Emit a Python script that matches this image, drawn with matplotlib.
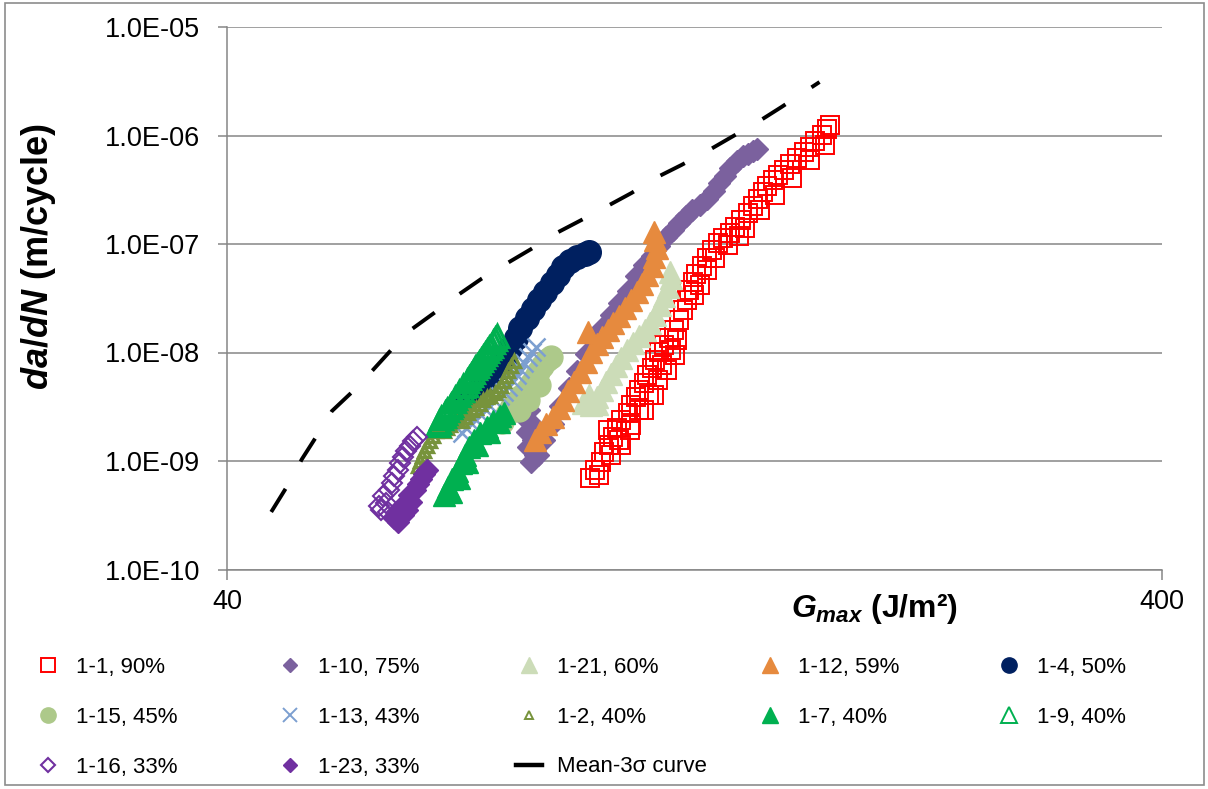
import matplotlib
matplotlib.use("Agg")
import matplotlib.pyplot as plt
from matplotlib.lines import Line2D
from matplotlib.patches import Rectangle
from matplotlib.ticker import NullLocator

plt.rcParams['font.family'] = ['Liberation Sans', 'DejaVu Sans']
plt.rcParams['mathtext.fontset'] = 'custom'
plt.rcParams['mathtext.it'] = 'Liberation Sans:italic:bold'
plt.rcParams['mathtext.rm'] = 'Liberation Sans:bold'
plt.rcParams['mathtext.bf'] = 'Liberation Sans:bold'

# fatigue crack growth: G_max (J/m^2) vs da/dN (m/cycle), one array pair per specimen
g_1_1 = [97.9, 99.1, 100.4, 101.1, 102.6, 103.6, 102.1, 104.6, 105.6, 107.3, 108.3, 109.6, 110.4,
         111.8, 112.6, 113.8, 114.9, 116.0, 117.4, 118.9, 120.4, 121.9, 123.1, 124.3, 124.9, 125.9,
         127.1, 128.7, 130.6, 131.9, 133.9, 135.8, 137.9, 139.9, 142.0, 144.2, 146.0, 147.8, 149.6,
         151.4, 153.3, 155.2, 157.6, 159.9, 162.7, 165.5, 168.0, 170.4, 173.1, 175.5, 176.8,
         100.1, 103.1, 105.1, 108.3, 110.4, 113.2, 115.5, 116.9, 119.5, 121.3,
         105.6, 107.8, 111.8, 114.6, 118.3, 120.7, 126.2, 128.1, 130.6, 133.2, 137.3, 141.3, 143.4,
         148.5, 154.1, 160.7, 168.0, 174.3]
dadn_1_1 = [6.97e-10, 8.26e-10, 9.79e-10, 1.21e-9, 1.40e-9, 1.66e-9, 1.93e-9, 2.01e-9, 2.39e-9,
            2.77e-9, 3.28e-9, 3.89e-9, 4.51e-9, 5.24e-9, 6.21e-9, 7.20e-9, 8.53e-9, 1.01e-8, 1.17e-8,
            1.36e-8, 1.61e-8, 1.99e-8, 2.46e-8, 3.05e-8, 3.77e-8, 4.46e-8, 5.29e-8, 6.27e-8, 7.43e-8,
            8.81e-8, 1.02e-7, 1.14e-7, 1.26e-7, 1.43e-7, 1.66e-7, 1.93e-7, 2.24e-7, 2.60e-7, 3.01e-7,
            3.42e-7, 3.89e-7, 4.32e-7, 4.81e-7, 5.46e-7, 6.21e-7, 7.05e-7, 7.83e-7, 8.90e-7, 1.01e-6,
            1.15e-6, 1.25e-6,
            7.43e-10, 1.14e-9, 1.56e-9, 2.15e-9, 2.95e-9, 4.06e-9, 5.58e-9, 7.67e-9, 1.05e-8, 1.30e-8,
            1.40e-9, 1.93e-9, 2.95e-9, 4.06e-9, 6.90e-9, 9.48e-9, 3.39e-8, 4.19e-8, 5.76e-8, 7.43e-8,
            9.8e-8, 1.19e-7, 1.40e-7, 2.06e-7, 2.83e-7, 4.06e-7, 5.95e-7, 8.17e-7]

g_1_10 = [84.2, 83.4, 85.0, 83.7, 85.0, 83.9, 85.3, 84.5,
          86.1, 87.4, 89.2, 90.9, 92.9, 94.8, 96.9, 98.8, 100.8, 103.1, 105.1, 107.3, 109.6, 111.8,
          113.8, 116.0, 118.0, 120.1, 121.9, 124.0, 125.8, 128.1, 130.3, 132.6, 134.5, 136.5, 138.2,
          140.3, 142.4, 144.2, 146.0, 147.5]
dadn_1_10 = [2.95e-9, 2.49e-9, 2.15e-9, 1.85e-9, 1.56e-9, 1.35e-9, 1.14e-9, 9.8e-10,
             1.14e-9, 1.56e-9, 2.19e-9, 3.21e-9, 4.71e-9, 6.75e-9, 9.69e-9, 1.30e-8, 1.68e-8, 2.22e-8,
             2.86e-8, 3.69e-8, 5.07e-8, 6.40e-8, 7.75e-8, 9.59e-8, 1.16e-7, 1.35e-7, 1.56e-7, 1.81e-7,
             2.06e-7, 2.29e-7, 2.60e-7, 3.08e-7, 3.65e-7, 4.24e-7, 5.02e-7, 5.82e-7, 6.47e-7, 6.75e-7,
             7.20e-7, 7.51e-7]

g_1_21 = [98.1, 99.4, 100.6, 101.8, 103.1, 104.3, 105.6, 107.0, 108.6, 110.4, 112.1, 113.5, 114.9,
          116.3, 117.4, 118.6, 119.5, 119.2, 97.6, 96.2, 99.6]
dadn_1_21 = [3.28e-9, 3.89e-9, 4.51e-9, 5.35e-9, 6.34e-9, 7.51e-9, 8.90e-9, 1.05e-8, 1.22e-8,
             1.42e-8, 1.61e-8, 1.87e-8, 2.22e-8, 2.74e-8, 3.32e-8, 4.01e-8, 4.86e-8, 5.52e-8, 4.06e-9,
             3.45e-9, 3.35e-9]

g_1_12 = [85.3, 86.5, 87.8, 89.2, 90.5, 91.6, 92.7, 94.1, 95.5, 96.9, 98.1, 99.4, 100.6, 102.1,
          103.6, 105.1, 106.7, 108.3, 109.9, 111.2, 112.6, 113.8, 114.6, 115.2, 114.9, 114.6, 97.4]
dadn_1_12 = [1.56e-9, 1.85e-9, 2.19e-9, 2.54e-9, 3.08e-9, 3.65e-9, 4.42e-9, 5.35e-9, 6.61e-9,
             8.17e-9, 1.01e-8, 1.20e-8, 1.39e-8, 1.61e-8, 1.87e-8, 2.17e-8, 2.57e-8, 3.05e-8,
             3.61e-8, 4.28e-8, 5.18e-8, 6.27e-8, 7.59e-8, 9.18e-8, 1.09e-7, 1.29e-7, 1.55e-8]

g_1_4 = [72.3, 73.7, 75.2, 76.7, 78.2, 79.4, 80.4, 81.4, 82.4, 83.7, 84.9, 86.3, 87.6, 89.0, 90.3,
         91.6, 93.2, 94.8, 96.5, 97.6]
dadn_1_4 = [3.65e-9, 4.32e-9, 5.13e-9, 6.07e-9, 7.20e-9, 8.9e-9, 1.10e-8, 1.36e-8, 1.68e-8, 2.08e-8,
            2.52e-8, 3.05e-8, 3.61e-8, 4.37e-8, 5.18e-8, 6.14e-8, 6.97e-8, 7.59e-8, 8.09e-8, 8.44e-8]

g_1_15 = [78.8, 79.8, 80.6, 81.6, 82.6, 83.7, 84.5, 85.3, 86.1, 86.9, 88.0, 88.9, 83.9, 86.3, 82.2]
dadn_1_15 = [2.29e-9, 2.71e-9, 3.08e-9, 3.50e-9, 3.97e-9, 4.51e-9, 5.13e-9, 5.82e-9, 6.61e-9,
             7.51e-9, 8.53e-9, 9.09e-9, 3.65e-9, 5.02e-9, 2.95e-9]

g_1_13 = [71.4, 72.1, 73.0, 73.9, 74.8, 75.7, 76.5, 77.4, 78.4, 79.2, 80.0, 80.8, 81.6, 82.4, 83.2,
          83.9, 84.8, 85.7]
dadn_1_13 = [1.81e-9, 2.01e-9, 2.24e-9, 2.39e-9, 2.65e-9, 2.95e-9, 3.21e-9, 3.57e-9, 3.97e-9,
             4.32e-9, 4.81e-9, 5.46e-9, 6.21e-9, 7.05e-9, 8.00e-9, 9.09e-9, 1.01e-8, 1.12e-8]

g_1_2 = [64.0, 64.3, 64.7, 65.0, 65.5, 66.0, 66.5, 67.0, 67.7, 68.2, 68.7, 69.2, 69.7, 70.4, 70.9,
         71.3, 71.8, 72.4, 73.1, 73.9, 74.6, 75.2, 75.8, 76.5, 77.4, 78.0, 78.6, 79.2, 79.6, 80.0,
         80.6, 81.0]
dadn_1_2 = [9.0e-10, 1.00e-9, 1.11e-9, 1.24e-9, 1.37e-9, 1.53e-9, 1.70e-9, 1.89e-9, 2.01e-9, 1.89e-9,
            2.01e-9, 2.15e-9, 2.34e-9, 2.49e-9, 2.60e-9, 2.34e-9, 2.55e-9, 2.77e-9, 2.95e-9, 3.08e-9,
            3.35e-9, 3.65e-9, 3.89e-9, 3.97e-9, 4.24e-9, 4.51e-9, 4.91e-9, 5.46e-9, 6.07e-9, 6.75e-9,
            7.51e-9, 8.35e-9]

g_1_7 = [68.3, 69.0, 69.7, 70.4, 71.1, 71.8, 72.6, 73.5, 74.6, 75.8, 77.1, 78.4, 79.2,
         69.5, 70.9, 72.3, 74.0, 76.3, 78.2]
dadn_1_7 = [4.9e-10, 5.8e-10, 6.8e-10, 8.1e-10, 9.6e-10, 1.14e-9, 1.35e-9, 1.56e-9, 1.81e-9, 2.06e-9,
            2.34e-9, 2.60e-9, 2.77e-9, 5.2e-10, 7.0e-10, 9.8e-10, 1.40e-9, 1.85e-9, 2.29e-9]

g_1_9 = [67.2, 67.5, 67.8, 68.2, 68.5, 68.8, 69.2, 69.5, 69.9, 70.2, 70.6, 70.9, 71.3, 71.6, 72.0,
         72.3, 72.6, 73.0, 73.4, 73.7, 74.1, 74.4, 74.8, 75.2, 75.5, 75.9, 76.3, 76.7, 77.0, 77.4,
         77.8]
dadn_1_9 = [2.15e-9, 2.29e-9, 2.47e-9, 2.59e-9, 2.76e-9, 2.94e-9, 3.13e-9, 3.30e-9, 3.55e-9, 3.78e-9,
            4.02e-9, 4.29e-9, 4.56e-9, 4.86e-9, 5.05e-9, 5.51e-9, 5.87e-9, 6.24e-9, 6.65e-9, 7.20e-9,
            7.54e-9, 8.04e-9, 8.55e-9, 9.00e-9, 9.69e-9, 1.03e-8, 1.10e-8, 1.15e-8, 1.25e-8, 1.33e-8,
            1.41e-8]

g_1_16 = [58.5, 59.1, 58.8, 59.6, 60.0, 60.4, 60.9, 61.3, 61.7, 62.2, 62.8, 63.3, 63.8, 58.1, 59.4]
dadn_1_16 = [3.53e-10, 4.10e-10, 4.76e-10, 5.40e-10, 6.27e-10, 7.27e-10, 8.26e-10, 9.59e-10, 1.09e-9,
             1.24e-9, 1.37e-9, 1.53e-9, 1.66e-9, 3.85e-10, 3.39e-10]

g_1_23 = [60.9, 61.7, 61.3, 62.3, 62.9, 62.6, 63.5, 64.0, 64.5, 65.0, 65.5, 60.4]
dadn_1_23 = [2.74e-10, 3.18e-10, 3.69e-10, 3.53e-10, 4.19e-10, 4.86e-10, 5.40e-10, 6.14e-10,
             6.82e-10, 7.59e-10, 8.26e-10, 2.98e-10]

# mean minus 3 sigma design curve
g_mean = [44.6, 46.4, 48.1, 49.8, 51.8, 54.3, 57.3, 59.9, 63.1, 66.6, 70.9, 74.8, 79.8, 84.6, 90.0,
          95.7, 102.1, 108.3, 115.5, 122.5, 130.6, 138.6, 147.8, 156.7, 172.1]
dadn_mean = [3.39e-10, 5.88e-10, 1.04e-9, 1.66e-9, 2.89e-9, 4.24e-9, 6.90e-9, 1.05e-8, 1.65e-8,
             2.31e-8, 3.46e-8, 4.76e-8, 6.68e-8, 8.99e-8, 1.26e-7, 1.66e-7, 2.24e-7, 2.95e-7,
             4.15e-7, 5.35e-7, 7.20e-7, 9.69e-7, 1.33e-6, 1.83e-6, 3.11e-6]

y_ticks = [1e-10, 1e-9, 1e-8, 1e-7, 1e-6, 1e-5]
y_tick_labels = ['1.0E-10', '1.0E-09', '1.0E-08', '1.0E-07', '1.0E-06', '1.0E-05']
x_ticks = [40, 400]
x_tick_labels = ['40', '400']

W, H = 1208, 789
fig = plt.figure(figsize=(W / 100, H / 100), dpi=100)
ax = fig.add_axes([227 / W, 1 - 569.5 / H, 935 / W, 542.5 / H])

grey = '#868686'
# (label, x, y, marker style, plot marker size, legend marker size)
series = [
    ('1-1, 90%', g_1_1, dadn_1_1, dict(marker='s', mfc='none', mec='#FF0000', mew=1.4), 13, 10),
    ('1-10, 75%', g_1_10, dadn_1_10, dict(marker='D', mfc='#7B619E', mec='#7B619E'), 11.5, 7),
    ('1-21, 60%', g_1_21, dadn_1_21, dict(marker='^', mfc='#CCDCB8', mec='#CCDCB8'), 15.5, 11),
    ('1-12, 59%', g_1_12, dadn_1_12, dict(marker='^', mfc='#E68A3E', mec='#E68A3E'), 15.5, 11),
    ('1-4, 50%', g_1_4, dadn_1_4, dict(marker='o', mfc='#002060', mec='#002060'), 17, 11),
    ('1-15, 45%', g_1_15, dadn_1_15, dict(marker='o', mfc='#ADC98A', mec='#ADC98A'), 16.5, 11),
    ('1-13, 43%', g_1_13, dadn_1_13, dict(marker='x', mec='#7C9FD0', mew=1.8), 13, 10),
    ('1-2, 40%', g_1_2, dadn_1_2, dict(marker='^', mfc='none', mec='#77933C', mew=2.4), 9, 6),
    ('1-7, 40%', g_1_7, dadn_1_7, dict(marker='^', mfc='#00B050', mec='#00B050'), 15.5, 11),
    ('1-9, 40%', g_1_9, dadn_1_9, dict(marker='^', mfc='none', mec='#00B050', mew=2.4), 15.5, 11),
    ('1-16, 33%', g_1_16, dadn_1_16, dict(marker='D', mfc='none', mec='#7030A0', mew=1.5), 10, 7),
    ('1-23, 33%', g_1_23, dadn_1_23, dict(marker='D', mfc='#7030A0', mec='#7030A0'), 11, 7),
]

handles = []
for label, g, d, style, ms, ms_leg in series:
    ax.plot(g, d, ls='none', ms=ms, **style)
    legend_style = dict(style)
    if legend_style.get('mew', 1.0) > 1.5:
        legend_style['mew'] = 1.4
    handles.append(Line2D([], [], ls='none', ms=ms_leg, label=label, **legend_style))

ax.plot(g_mean, dadn_mean, color='black', lw=2.8, dashes=(7, 8), dash_capstyle='butt')
handles.append(Line2D([], [], color='black', lw=3.2, label='Mean-3\u03c3 curve'))

ax.set_xscale('log')
ax.set_yscale('log')
ax.set_xlim(40, 400)
ax.set_ylim(1e-10, 1e-5)
ax.set_yticks(y_ticks)
ax.set_yticklabels(y_tick_labels)
ax.set_xticks(x_ticks)
ax.set_xticklabels(x_tick_labels)
ax.xaxis.set_minor_locator(NullLocator())
ax.yaxis.set_minor_locator(NullLocator())

ax.tick_params(axis='y', length=6.5, width=1.1, color=grey, pad=13, labelsize=19.5)
ax.tick_params(axis='x', length=7, width=1.1, color=grey, pad=7, labelsize=19.5)
ax.yaxis.grid(True, color=grey, lw=1.1)
ax.set_axisbelow(True)
for side in ('top', 'right'):
    ax.spines[side].set_visible(False)
for side in ('left', 'bottom'):
    ax.spines[side].set_color(grey)
    ax.spines[side].set_linewidth(1.1)

fig.text(39 / W, 1 - 256 / H, r'$da/dN$ (m/cycle)', rotation=90, ha='center', va='center',
         fontsize=26, fontweight='bold')
fig.text(875 / W, 1 - 617 / H, r'$G_{max}$ (J/m²)', ha='center', va='baseline',
         fontsize=23, fontweight='bold')

# legend laid out as a 5-column grid under the plot
legend_pos = [(48, 667), (290, 667), (529, 667), (770, 667), (1009, 667),
              (48, 717), (290, 717), (529, 717), (770, 717), (1009, 717),
              (48, 767), (290, 767), (529, 767)]
for h, (px, py) in zip(handles, legend_pos):
    fig.legend(handles=[h], labels=[h.get_label()], loc='center left',
               bbox_to_anchor=((px - 13.3) / W, 1 - py / H), frameon=False,
               fontsize=16, handlelength=1.2, handletextpad=0.66,
               borderpad=0, borderaxespad=0, numpoints=1)

fig.add_artist(Rectangle((5 / W, 4 / H), 1199 / W, 782 / H, transform=fig.transFigure,
                         fill=False, ec='#8c8c8c', lw=1.2))

fig.savefig('out.png', dpi=100)
